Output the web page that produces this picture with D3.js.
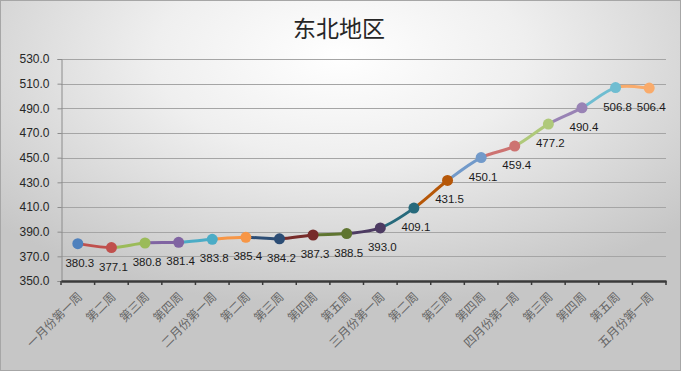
<!DOCTYPE html>
<html>
<head>
<meta charset="utf-8">
<script src="https://cdn.jsdelivr.net/npm/d3@7"></script>
<style>
  body { margin: 0; background: #fff; }
  svg { display: block; }
</style>
</head>
<body>
<svg id="canvas" width="681" height="371"></svg>
<script>
// weekly categories (labels as shown on the chart)
let weeks = ['一月份第一周', '第二周', '第三周', '第四周',
             '二月份第一周', '第二周', '第三周', '第四周', '第五周',
             '三月份第一周', '第二周', '第三周', '第四周',
             '四月份第一周', '第三周', '第四周', '第五周',
             '五月份第一周']
let prices = [380.3, 377.1, 380.8, 381.4, 383.8, 385.4, 384.2, 387.3, 388.5,
              393.0, 409.1, 431.5, 450.1, 459.4, 477.2, 490.4, 506.8, 506.4]
let yTicks = [350, 370, 390, 410, 430, 450, 470, 490, 510, 530]
let pointColors = ['#4F81BD', '#C0504D', '#9BBB59', '#8064A2', '#4BACC6', '#F79646',
                   '#2C4D75', '#772C2A', '#5F7530', '#4D3B62', '#276A7C', '#B65708',
                   '#729ACA', '#CD7371', '#AFC97A', '#9983B5', '#6FBDD1', '#F9AB6B']

let canvas = d3.select('#canvas')
let W = 681, H = 371
let plotLeft = 61, plotRight = 666, plotTop = 59, plotBottom = 281

// background gradient like the excel chart area
let defs = canvas.append('defs')
let grad = defs.append('radialGradient')
                .attr('id', 'bg')
                .attr('cx', '50%').attr('cy', '15%')
                .attr('r', '68%')
grad.append('stop').attr('offset', '0%').attr('stop-color', '#ffffff')
grad.append('stop').attr('offset', '40%').attr('stop-color', '#efefef')
grad.append('stop').attr('offset', '100%').attr('stop-color', '#c6c6c6')

canvas.append('rect')
        .attr('x', 0.5).attr('y', 0.5)
        .attr('width', W - 1).attr('height', H - 1)
        .attr('fill', 'url(#bg)')
        .attr('stroke', '#a6a6a6')

let x = d3.scaleBand()
            .domain(d3.range(weeks.length))
            .range([plotLeft, plotRight])
let y = d3.scaleLinear()
            .domain([350, 530])
            .range([plotBottom, plotTop])

// gridlines
canvas.append('g')
        .selectAll('line')
        .data(yTicks.slice(1))
        .enter()
        .append('line')
        .attr('x1', plotLeft).attr('x2', plotRight)
        .attr('y1', (d) => Math.round(y(d)) + 0.5)
        .attr('y2', (d) => Math.round(y(d)) + 0.5)
        .attr('stroke', '#a5a5a5')
        .attr('stroke-width', 1)

// y axis
let yAxis = d3.axisLeft(y)
                .tickValues(yTicks)
                .tickSize(4)
                .tickFormat(d3.format('.1f'))
let yg = canvas.append('g')
                .attr('transform', 'translate(' + (plotLeft + 0.5) + ',0)')
                .call(yAxis)
yg.select('.domain').attr('stroke', '#8c8c8c')
yg.selectAll('.tick line').attr('stroke', '#8c8c8c')
yg.selectAll('.tick text')
    .attr('x', -12)
    .attr('fill', '#262626')
    .style('font-family', '"Liberation Sans", "DejaVu Sans", sans-serif')
    .style('font-size', '12px')

// x axis
let xAxis = d3.axisBottom(x)
                .tickSize(0)
                .tickFormat((i) => weeks[i])
let xg = canvas.append('g')
                .attr('transform', 'translate(0,' + plotBottom + ')')
                .call(xAxis)
xg.select('.domain').attr('stroke', '#3a3a3a').attr('stroke-width', 2.5)
xg.selectAll('.tick text')
    .attr('transform', 'rotate(-45)')
    .attr('x', -8)
    .attr('y', 11)
    .attr('dy', '0.35em')
    .style('text-anchor', 'end')
    .attr('fill', '#666')
    .style('font-family', '"Noto Sans CJK SC", sans-serif')
    .style('font-size', '12px')
// tick marks between categories
canvas.append('g')
        .selectAll('line')
        .data(d3.range(weeks.length + 1))
        .enter()
        .append('line')
        .attr('x1', (i) => i < weeks.length ? x(i) : plotRight)
        .attr('x2', (i) => i < weeks.length ? x(i) : plotRight)
        .attr('y1', plotBottom).attr('y2', plotBottom + 4)
        .attr('stroke', '#3a3a3a')
        .attr('stroke-width', 1.5)

// points
let pts = prices.map((v, i) => [x(i) + x.bandwidth() / 2, y(v)])

// smooth segments, each coloured by the point it leads into
let segments = d3.range(1, pts.length).map((i) => {
    let p0 = pts[Math.max(i - 2, 0)], p1 = pts[i - 1], p2 = pts[i], p3 = pts[Math.min(i + 1, pts.length - 1)]
    let path = d3.path()
    path.moveTo(p1[0], p1[1])
    path.bezierCurveTo(p1[0] + (p2[0] - p0[0]) / 6, p1[1] + (p2[1] - p0[1]) / 6,
                       p2[0] - (p3[0] - p1[0]) / 6, p2[1] - (p3[1] - p1[1]) / 6,
                       p2[0], p2[1])
    return { d: path.toString(), color: pointColors[i] }
})

canvas.append('g')
        .selectAll('path')
        .data(segments)
        .enter()
        .append('path')
        .attr('d', (s) => s.d)
        .attr('fill', 'none')
        .attr('stroke', (s) => s.color)
        .attr('stroke-width', 3)
        .attr('stroke-linecap', 'round')

canvas.append('g')
        .selectAll('circle')
        .data(pts)
        .enter()
        .append('circle')
        .attr('cx', (p) => p[0])
        .attr('cy', (p) => p[1])
        .attr('r', 5.5)
        .attr('fill', (p, i) => pointColors[i])

// data labels below points
canvas.append('g')
        .selectAll('text')
        .data(prices)
        .enter()
        .append('text')
        .attr('x', (v, i) => pts[i][0] + 2)
        .attr('y', (v, i) => pts[i][1] + 23)
        .attr('text-anchor', 'middle')
        .attr('fill', '#1a1a1a')
        .style('font-family', '"Liberation Sans", "DejaVu Sans", sans-serif')
        .style('font-size', '11.5px')
        .text((v) => v.toFixed(1))

// title
canvas.append('text')
        .attr('x', 339)
        .attr('y', 37)
        .attr('text-anchor', 'middle')
        .attr('fill', '#262626')
        .style('font-family', '"Noto Sans CJK SC", sans-serif')
        .style('font-size', '23px')
        .text('东北地区')
</script>
</body>
</html>
